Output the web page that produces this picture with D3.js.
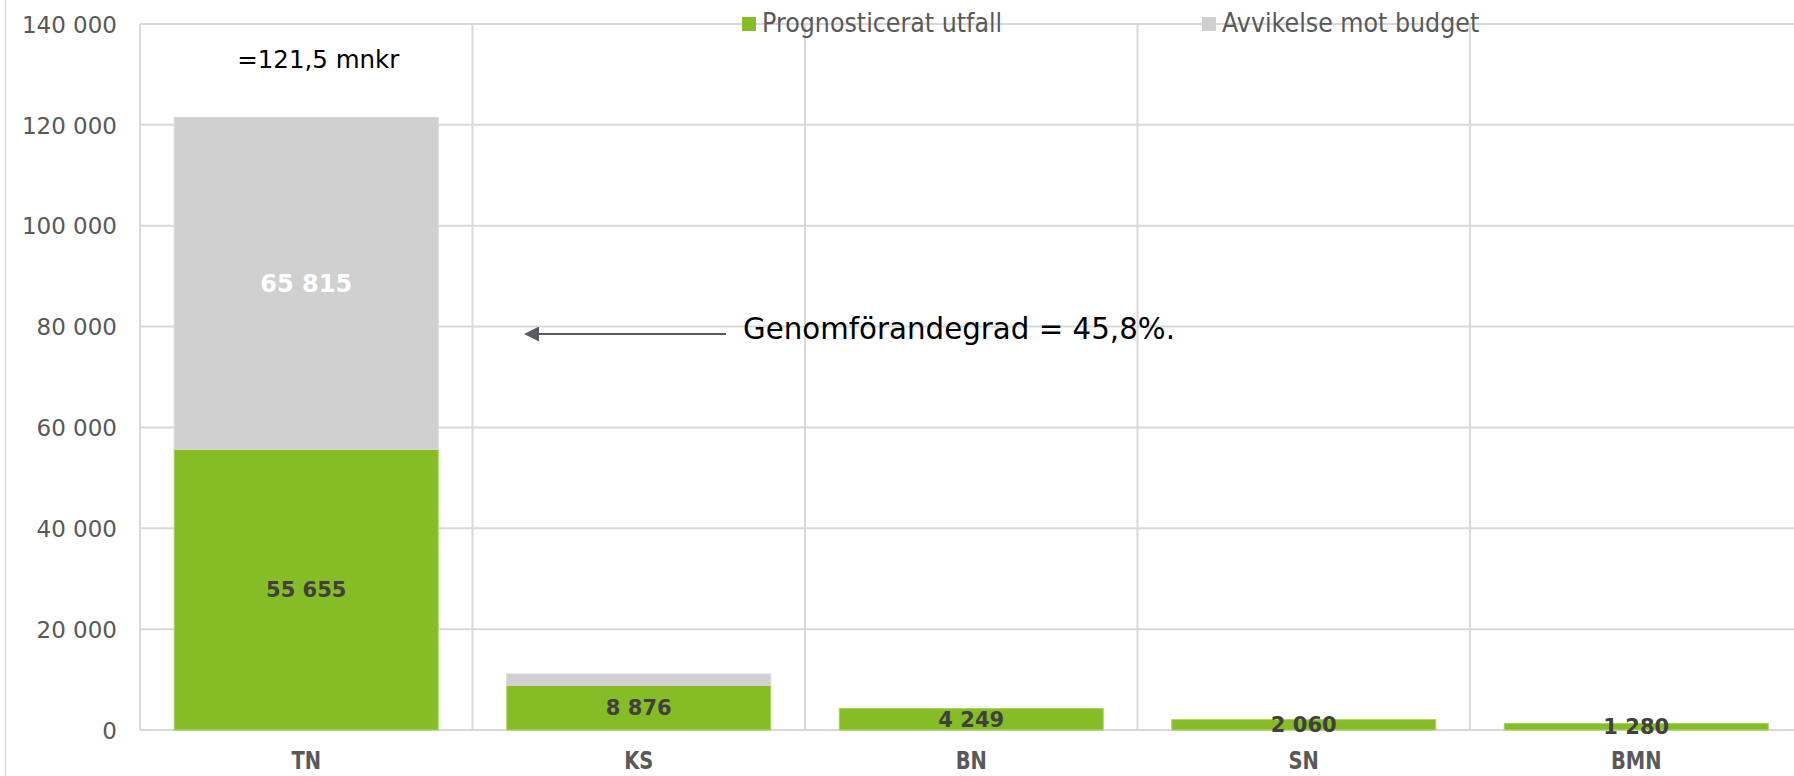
<!DOCTYPE html>
<html>
<head>
<meta charset="utf-8">
<script src="https://cdn.jsdelivr.net/npm/d3@7"></script>
<style>
  html, body { margin: 0; padding: 0; background: #fff; }
  svg { display: block; font-family: "DejaVu Sans", Verdana, sans-serif; }
</style>
</head>
<body>
<svg id="chart" width="1794" height="776"></svg>
<script>
// ---- data ----
const categories = ["TN", "KS", "BN", "SN", "BMN"];
const prognosticerat = [55655, 8876, 4249, 2060, 1280];
const avvikelse = [65815, 2230, 0, 0, 0];
const seriesNames = ["Prognosticerat utfall", "Avvikelse mot budget"];
const seriesColors = ["#86bc25", "#d0d0d0"];
const yTicks = [0, 20000, 40000, 60000, 80000, 100000, 120000, 140000];
const totalNote = "=121,5 mnkr";
const rateNote = "Genomförandegrad = 45,8%.";

// ---- layout ----
const W = 1794, H = 776;
const plotLeft = 140, plotRight = 1802.5, plotTop = 24, plotBottom = 730;

const svg = d3.select("#chart");
svg.append("rect").attr("width", W).attr("height", H).attr("fill", "#fff");

const fmt = d3.formatLocale({ decimal: ",", thousands: " ", grouping: [3], currency: ["", " kr"] }).format(",d");

const x = d3.scaleBand().domain(categories).range([plotLeft, plotRight])
  .paddingInner(0.206).paddingOuter(0.103);
const y = d3.scaleLinear().domain([0, 140000]).range([plotBottom, plotTop]);

const rows = categories.map((c, i) => ({ cat: c, p: prognosticerat[i], a: avvikelse[i] }));
const stack = d3.stack().keys(["p", "a"]);
const layers = stack(rows);

// outer chart border (left)
svg.append("line").attr("x1", 5.5).attr("x2", 5.5).attr("y1", 0).attr("y2", H)
  .attr("stroke", "#d9d9d9").attr("stroke-width", 1.5);

// horizontal gridlines
const grid = svg.append("g");
grid.selectAll("line.h").data(yTicks).join("line").attr("class", "h")
  .attr("x1", plotLeft).attr("x2", W)
  .attr("y1", d => y(d)).attr("y2", d => y(d))
  .attr("stroke", "#d9d9d9").attr("stroke-width", 2);

// vertical category separators
const step = x.step();
const seps = d3.range(categories.length + 1).map(i => plotLeft + i * step);
grid.selectAll("line.v").data(seps).join("line").attr("class", "v")
  .attr("x1", d => d).attr("x2", d => d)
  .attr("y1", plotTop).attr("y2", plotBottom)
  .attr("stroke", "#d9d9d9").attr("stroke-width", 2);

// y axis labels
const yAxis = d3.axisLeft(y).tickValues(yTicks).tickFormat(fmt).tickSize(0).tickPadding(23);
const yg = svg.append("g").attr("transform", `translate(${plotLeft},0)`).call(yAxis);
yg.select(".domain").remove();
yg.selectAll("text").attr("font-size", 23).attr("fill", "#595959")
  .attr("font-family", "DejaVu Sans, Verdana, sans-serif").attr("dy", "0.36em");

// bars
const strokes = ["#a6d65e", "#d8d8d8"];
layers.forEach((layer, li) => {
  svg.append("g").selectAll("rect").data(layer.filter(d => d[1] > d[0])).join("rect")
    .attr("x", d => x(d.data.cat))
    .attr("width", x.bandwidth())
    .attr("y", d => y(d[1]))
    .attr("height", d => y(d[0]) - y(d[1]))
    .attr("fill", seriesColors[li])
    .attr("stroke", strokes[li]).attr("stroke-width", 1);
});

// value labels
layers.forEach((layer, li) => {
  svg.append("g").selectAll("text")
    .data(layer.filter(d => (d[1] > d[0]) && (li === 0 || y(d[0]) - y(d[1]) > 40)))
    .join("text")
    .attr("x", d => x(d.data.cat) + x.bandwidth() / 2)
    .attr("y", d => (y(d[0]) + y(d[1])) / 2)
    .attr("dy", "0.36em")
    .attr("text-anchor", "middle")
    .attr("font-weight", "bold")
    .attr("font-size", li === 0 ? 21 : 24)
    .attr("fill", li === 0 ? "#404040" : "#ffffff")
    .text(d => fmt(d[1] - d[0]));
});

// x axis labels
const xAxis = d3.axisBottom(x).tickSize(0).tickPadding(0);
const xg = svg.append("g").attr("transform", `translate(0,${plotBottom})`).call(xAxis);
xg.select(".domain").remove();
xg.selectAll(".tick text").remove();
xg.selectAll(".tick").append("text")
  .attr("transform", "translate(0,39) scale(0.78,1)")
  .attr("text-anchor", "middle")
  .attr("font-size", 25).attr("font-weight", "bold")
  .attr("font-family", "DejaVu Sans, Verdana, sans-serif")
  .attr("fill", "#595959")
  .text(d => d);

// legend
const legend = svg.append("g");
seriesNames.forEach((name, i) => {
  const g = legend.append("g").attr("transform", `translate(${742 + i * 460},0)`);
  g.append("rect").attr("x", 0).attr("y", 17).attr("width", 14).attr("height", 14)
    .attr("fill", seriesColors[i]);
  g.append("text").attr("transform", "translate(20,32) scale(0.915,1)")
    .attr("font-size", 26).attr("fill", "#595959").text(name);
});

// annotation: total
svg.append("text")
  .attr("x", x("TN") + x.bandwidth() / 2 + 12).attr("y", 68)
  .attr("text-anchor", "middle").attr("font-size", 24.5).attr("fill", "#000")
  .text(totalNote);

// annotation: arrow + rate
const arrowY = 334;
svg.append("defs").append("marker").attr("id", "ah")
  .attr("viewBox", "0 0 10 10").attr("refX", 1).attr("refY", 5)
  .attr("markerWidth", 7.5).attr("markerHeight", 7.5).attr("markerUnits", "strokeWidth")
  .attr("orient", "auto-start-reverse")
  .append("path").attr("d", "M0,0 L10,5 L0,10 z").attr("fill", "#595b60");
svg.append("line").attr("x1", 726).attr("x2", 537.5)
  .attr("y1", arrowY).attr("y2", arrowY)
  .attr("stroke", "#595b60").attr("stroke-width", 2)
  .attr("marker-end", "url(#ah)");
svg.append("text").attr("x", 743).attr("y", 339)
  .attr("font-size", 29.5).attr("fill", "#000")
  .attr("textLength", 432).attr("lengthAdjust", "spacingAndGlyphs")
  .text(rateNote);
</script>
</body>
</html>
